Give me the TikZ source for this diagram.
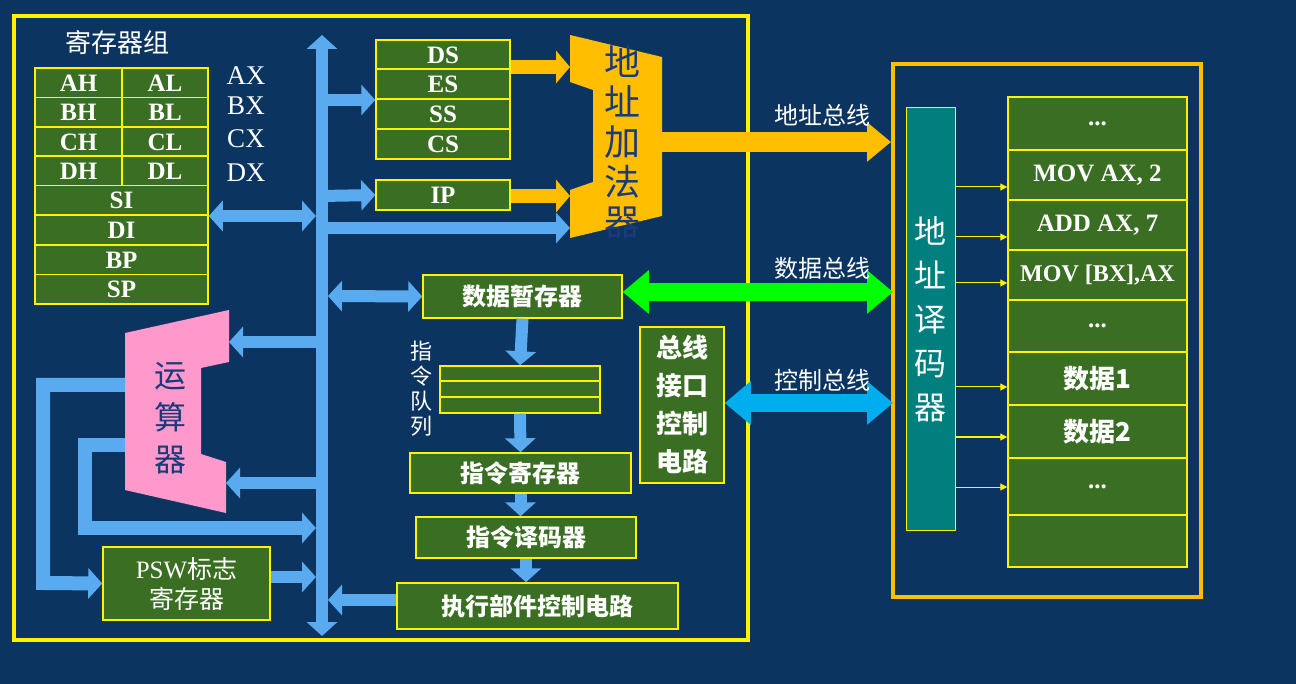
\documentclass[tikz,border=0pt]{standalone}
\usepackage{fontspec}
\setmainfont{Liberation Serif}
\newfontfamily\cjk{Noto Sans CJK SC}
\usetikzlibrary{arrows.meta}
\definecolor{bg}{HTML}{0B3560}
\definecolor{gb}{HTML}{3A6E22}
\definecolor{bus}{HTML}{5AAAF0}
\definecolor{org}{HTML}{FFBF00}
\definecolor{pk}{HTML}{FF99CC}
\definecolor{lime}{HTML}{00FF00}
\definecolor{cy}{HTML}{00AEEF}
\definecolor{tl}{HTML}{007F7F}
\definecolor{nv}{HTML}{1A3A7A}
\begin{document}
\begin{tikzpicture}[x=1pt,y=-1pt,
  box/.style={draw=yellow,fill=gb,line width=1.5pt,text=white,inner sep=0pt,font=\cjk\bfseries\fontsize{24}{26}\selectfont},
  reg/.style={box,font=\bfseries\fontsize{25}{26}\selectfont},
  mem/.style={box,minimum width=179pt,font=\bfseries\fontsize{25}{26}\selectfont},
  ba/.style={bus,line width=12pt,-{Triangle[length=14pt,width=30pt]}},
  bd/.style={bus,line width=12pt,{Triangle[length=14pt,width=30pt]}-{Triangle[length=14pt,width=30pt]}},
  oa/.style={org,line width=14pt,-{Triangle[length=14pt,width=32pt]}},
  ya/.style={yellow,line width=1pt,-{Triangle[length=7pt,width=7pt]}},
  lab/.style={text=white,font=\cjk\fontsize{24}{26}\selectfont}]
\fill[bg] (0,0) rectangle (1296,684);
\useasboundingbox (0,0) rectangle (1296,684);
\draw[yellow,line width=4pt] (14,16) rectangle (748,640);
\draw[org,line width=4pt] (893,64) rectangle (1201,597);
% register group
\node[lab,font=\cjk\fontsize{26}{28}\selectfont] (rgt) at (117,43) {寄存器组};
\foreach \n/\m/\y in {AH/AL/83,BH/BL/112.5,CH/CL/142,DH/DL/171}{
  \node[reg,minimum width=87pt,minimum height=29.5pt] (\n) at (78.5,\y) {\n};
  \node[reg,minimum width=86pt,minimum height=29.5pt] (\m) at (165,\y) {\m};}
\foreach \n/\y in {SI/200.5,DI/230,BP/260,SP/289.5}
  \node[reg,minimum width=173pt,minimum height=29.5pt] (\n) at (121.5,\y) {\n};
\foreach \t/\y in {AX/76,BX/106,CX/139,DX/173}
  \node[text=white,font=\fontsize{27}{28}\selectfont] (l\t) at (246,\y) {\t};
% segment registers
\foreach \n/\y in {DS/55,ES/84,SS/114,CS/144}
  \node[reg,minimum width=134pt,minimum height=30pt] (\n) at (443,\y) {\n};
\node[reg,minimum width=134pt,minimum height=30pt] (IP) at (443,195) {IP};
% adder
\fill[org] (570,35) -- (662,57) -- (662,216) -- (570,238) -- (570,190) -- (593,182) -- (593,90) -- (570,82) -- cycle;
\node[text=nv,font=\cjk\fontsize{36}{40}\selectfont,align=center] (add) at (622,142) {地\\址\\加\\法\\器};
\coordinate (addIn1) at (570,67);
\coordinate (addIn2) at (570,196);
\coordinate (addIn3) at (570,228);
% bus
\coordinate (bt) at (322,35); \coordinate (bb) at (322,636);
\draw[bd] (bb) -- (bt);
\draw[bd] (SI.east|-0,216) -- (316,216);
\draw[ba] (322,100) -- (ES.west|-0,100);
\draw[ba] (322,196) -- (IP.west);
\draw[ba] (322,228) -- (addIn3);
\draw[oa] (DS.east|-0,67) -- (addIn1);
\draw[oa] (IP.east|-0,196) -- (addIn2);
\coordinate (abus) at (891,142);
\draw[org,line width=20pt,-{Triangle[length=24pt,width=38pt]}] (662,142) -- (abus);
\node[lab] (t1) at (822,115) {地址总线};
% data path
\node[box,minimum width=199pt,minimum height=43pt] (dtmp) at (522.5,296.5) {数据暂存器};
\draw[bd] (328,296) -- (dtmp.west);
\node[box,minimum width=160pt,minimum height=15pt] (q1) at (520,373.5) {};
\node[box,minimum width=160pt,minimum height=15pt] (q2) at (520,389) {};
\node[box,minimum width=160pt,minimum height=16pt] (q3) at (520,405) {};
\node[text=white,font=\cjk\fontsize{22}{25}\selectfont,align=center] (ql) at (421,389) {指\\令\\队\\列};
\node[box,minimum width=221pt,minimum height=40pt] (ir) at (520.5,473) {指令寄存器};
\node[box,minimum width=220pt,minimum height=41pt] (id) at (526,537.5) {指令译码器};
\node[box,minimum width=281pt,minimum height=46pt] (ex) at (537.5,606) {执行部件控制电路};
\draw[ba] (dtmp.south) -- (q1.north);
\draw[ba] (q3.south) -- (ir.north);
\draw[ba] (ir.south) -- (ir.south|-id.north);
\draw[ba] (id.south) -- (id.south|-ex.north);
\draw[ba] (ex.west|-0,600) -- (328,600);
\node[box,minimum width=84pt,minimum height=156pt,align=center,font=\cjk\bfseries\fontsize{26}{38}\selectfont] (bic) at (682,405) {总线\\接口\\控制\\电路};
\coordinate (dbus) at (893,292); \coordinate (cbus) at (893,403);
\draw[lime,line width=18pt,{Triangle[length=26pt,width=42pt]}-{Triangle[length=26pt,width=42pt]}] (dtmp.east|-0,292) -- (dbus);
\draw[cy,line width=18pt,{Triangle[length=26pt,width=42pt]}-{Triangle[length=26pt,width=42pt]}] (bic.east|-0,403) -- (cbus);
\node[lab] (t2) at (822,268) {数据总线};
\node[lab] (t3) at (822,380) {控制总线};
% ALU
\fill[pk] (125,333) -- (229,310) -- (229,362) -- (201,368) -- (201,454) -- (226,462) -- (226,513) -- (125,490) -- cycle;
\node[text=nv,font=\cjk\fontsize{32}{42}\selectfont,align=center] (alu) at (170,418) {运\\算\\器};
\draw[ba] (322,342) -- (229,342);
\draw[ba] (322,483) -- (226,483);
\node[box,minimum width=167pt,minimum height=73pt,align=center,font=\fontsize{25}{30}\selectfont] (psw) at (186.5,583.5) {PSW{\cjk 标志}\\{\cjk 寄存器}};
\draw[bus,line width=14pt,line join=miter,-{Triangle[length=14pt,width=30pt]}] (125,385) -| (43,583) -- (psw.west);
\draw[bus,line width=14pt,line join=miter,-{Triangle[length=14pt,width=30pt]}] (125,445) -| (85,528) -- (316,528);
\draw[ba] (psw.east|-0,577) -- (316,577);
% memory side
\node[fill=tl,draw=yellow,line width=1pt,minimum width=49pt,minimum height=422pt,text=white,align=center,font=\cjk\fontsize{32}{44}\selectfont] (dec) at (930.5,319) {地\\址\\译\\码\\器};
\node[mem,minimum height=53pt] (m0) at (1097.5,123.5) {...};
\node[mem,minimum height=50pt] (m1) at (1097.5,175) {MOV AX, 2};
\node[mem,minimum height=50pt] (m2) at (1097.5,225) {ADD AX, 7};
\node[mem,minimum height=50pt,font=\bfseries\fontsize{24}{26}\selectfont] (m3) at (1097.5,275) {\kern-2pt MOV [BX],AX\kern-2pt};
\node[mem,minimum height=52pt] (m4) at (1097.5,326) {...};
\node[mem,minimum height=53pt,font=\cjk\bfseries\fontsize{26}{28}\selectfont] (m5) at (1097.5,378.5) {数据1};
\node[mem,minimum height=53pt,font=\cjk\bfseries\fontsize{26}{28}\selectfont] (m6) at (1097.5,431.5) {数据2};
\node[mem,minimum height=57pt] (m7) at (1097.5,486.5) {...};
\node[mem,minimum height=52pt] (m8) at (1097.5,541) {};
\foreach \y in {187,237,283,387,437,487}
  \draw[ya] (dec.east|-0,\y) -- (m1.west|-0,\y);
\end{tikzpicture}
\end{document}
